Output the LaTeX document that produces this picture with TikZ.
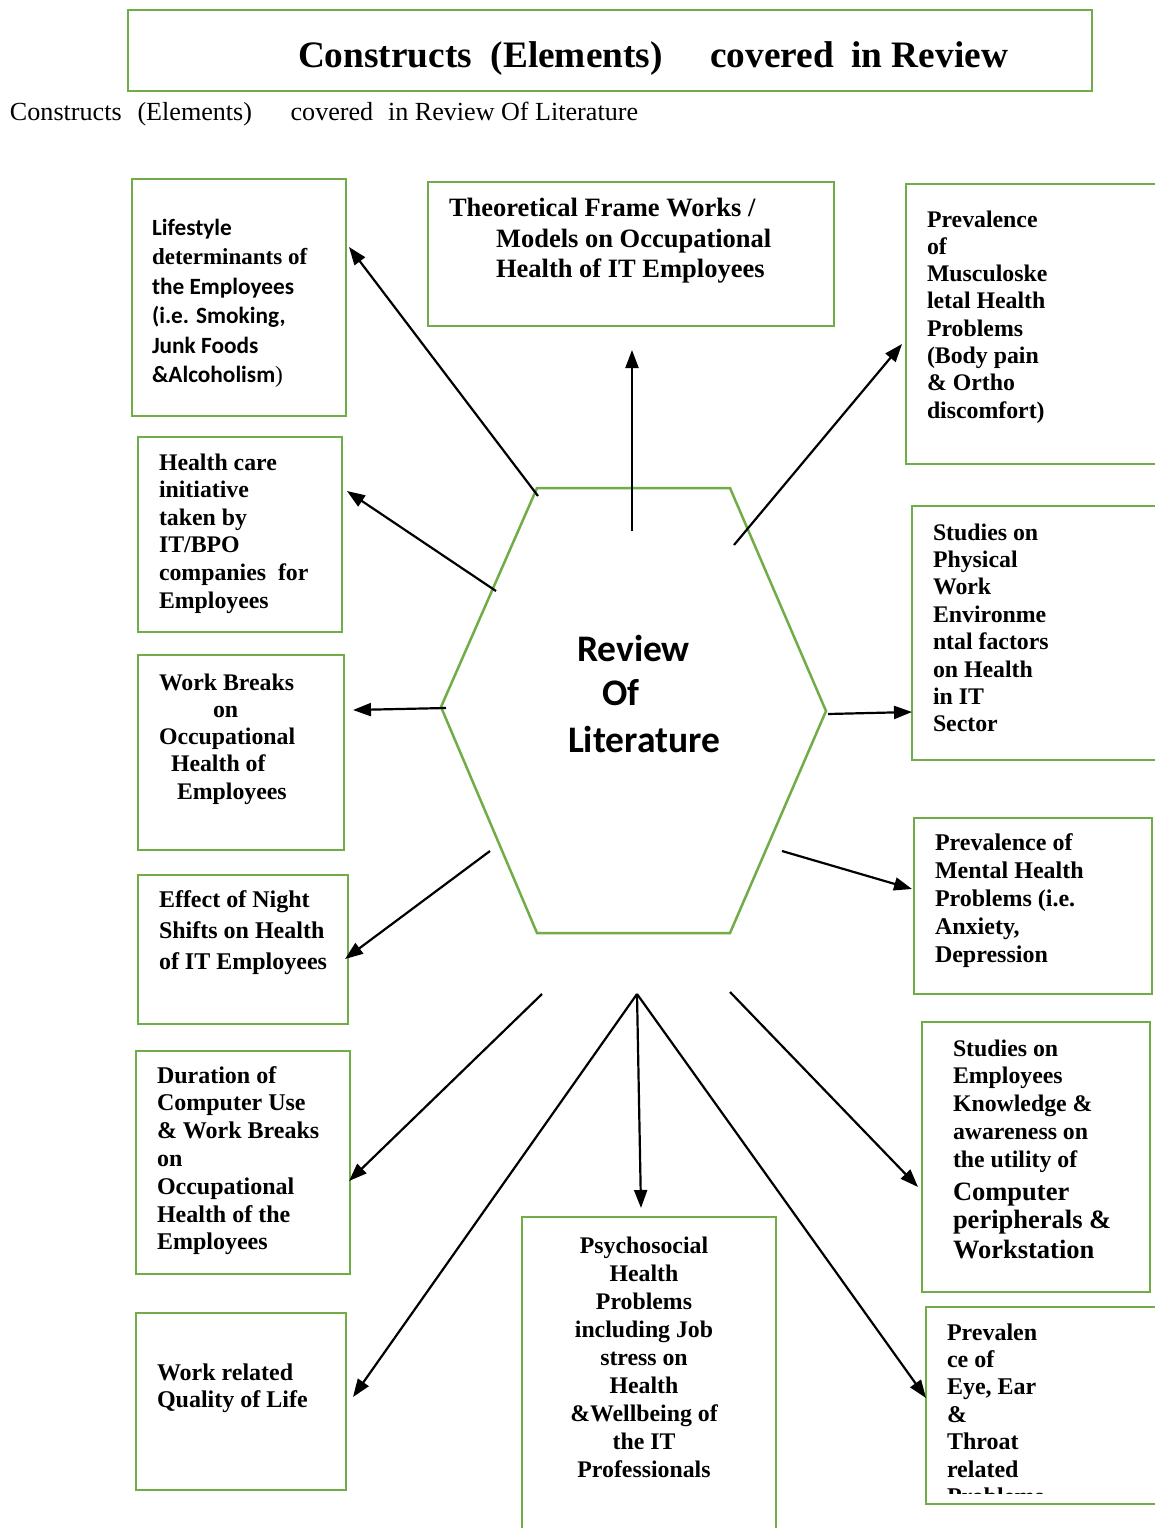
\documentclass[tikz,border=0pt]{standalone}
\usepackage{fontspec}
\setmainfont{Liberation Serif}
\newfontfamily\calfont{Carlito}
\newfontfamily\serfont{Liberation Serif}
\usetikzlibrary{arrows.meta}
\definecolor{boxgreen}{HTML}{70AD47}
\newcommand{\ltab}[1]{\begin{tabular}[t]{@{}l@{}}#1\end{tabular}}
\newcommand{\ctab}[1]{\begin{tabular}[t]{@{}c@{}}#1\end{tabular}}
\newcommand{\fs}[2]{\fontsize{#1}{#2}\selectfont}
\begin{document}
\begin{tikzpicture}[x=1pt,y=-1pt,
  bx/.style={draw=boxgreen, line width=2.5pt, anchor=north west, inner sep=0pt, outer sep=0pt},
  txt/.style={anchor=base west, inner sep=0pt, outer sep=0pt},
  arr/.style={line width=2.2pt, -{Triangle[length=18pt,width=13pt]}}]
\useasboundingbox[fill=white] (0,0) rectangle (1154,1528);

% boxes
\node[bx, minimum width=964pt, minimum height=81pt] (title) at (128,10) {};
\node[bx, minimum width=214pt, minimum height=237pt] (life) at (132,179) {};
\node[bx, minimum width=406pt, minimum height=144pt] (theory) at (428,182) {};
\node[bx, minimum width=270pt, minimum height=280pt] (musc) at (906,184) {};
\node[bx, minimum width=204pt, minimum height=195pt] (care) at (138,437) {};
\node[bx, minimum width=206pt, minimum height=195pt] (breaks) at (138,655) {};
\node[bx, minimum width=210pt, minimum height=149pt] (night) at (138,875) {};
\node[bx, minimum width=214pt, minimum height=223pt] (duration) at (136,1051) {};
\node[bx, minimum width=210pt, minimum height=177pt] (qol) at (136,1313) {};
\node[bx, minimum width=254pt, minimum height=340pt] (psycho) at (522,1217) {};
\node[bx, minimum width=270pt, minimum height=254pt] (phys) at (912,506) {};
\node[bx, minimum width=238pt, minimum height=176pt] (mental) at (914,818) {};
\node[bx, minimum width=228pt, minimum height=270pt] (know) at (922,1022) {};
\node[bx, minimum width=260pt, minimum height=197pt] (eye) at (926,1307) {};

% hexagon
\coordinate (h1) at (537,488);
\coordinate (h2) at (730,488);
\coordinate (h3) at (826,711);
\coordinate (h4) at (730,933);
\coordinate (h5) at (537,933);
\coordinate (h6) at (441,707);
\draw[boxgreen, line width=2.5pt, line join=miter] (h1) -- (h2) -- (h3) -- (h4) -- (h5) -- (h6) -- cycle;

% titles
\node[txt] (titletxt) at (298,68) {\resizebox{710pt}{!}{\fs{36}{40}\bfseries Constructs\hspace{18pt}(Elements)\hspace{46pt}covered\hspace{17pt}in Review}};
\node[txt] (subtxt) at (10,121) {\resizebox{628pt}{!}{\fs{23}{26}Constructs\hspace{14pt}(Elements)\hspace{34pt}covered\hspace{13pt}in Review Of Literature}};

% box texts
\node[txt] (lifetxt) at (152,235) {\calfont\bfseries\fs{23.3}{29.5}\ltab{Lifestyle\\ {\serfont\bfseries\fs{23}{29.5}determinants of}\\ the Employees\\ (i.e. Smoking,\\ Junk Foods\\ \&Alcoholism{\serfont\mdseries )}}};
\node[txt] (theorytxt) at (449,216.5) {\bfseries\fs{26.5}{30.7}\ltab{Theoretical Frame Works /\\ \hspace*{47pt}Models on Occupational\\ \hspace*{47pt}Health of IT Employees}};
\node[txt] (musctxt) at (927,227) {\bfseries\fs{23.8}{27.3}\ltab{Prevalence\\ of\\ Musculoske\\ letal Health\\ Problems\\ (Body pain\\ \& Ortho\\ discomfort)}};
\node[txt] (caretxt) at (159,470) {\bfseries\fs{23.8}{27.6}\ltab{Health care\\ initiative\\ taken by\\ IT/BPO\\ companies\ \ for\\ Employees}};
\node[txt] (breakstxt) at (159,690) {\bfseries\fs{23.8}{27.3}\ltab{Work Breaks\\ \hspace*{54pt}on\\ Occupational\\ \hspace*{12pt}Health of\\ \hspace*{18pt}Employees}};
\node[txt] (nighttxt) at (159,907) {\bfseries\fs{24}{31}\ltab{Effect of Night\\ Shifts on Health\\ of IT Employees}};
\node[txt] (durationtxt) at (157,1083) {\bfseries\fs{24}{27.8}\ltab{Duration of\\ Computer Use\\ \& Work Breaks\\ on\\ Occupational\\ Health of the\\ Employees}};
\node[txt] (qoltxt) at (157,1380) {\bfseries\fs{24}{27.5}\ltab{Work related\\ Quality of Life}};
\node[anchor=base, inner sep=0pt] (psychotxt) at (644,1253) {\bfseries\fs{23.8}{28.1}\ctab{Psychosocial\\ Health\\ Problems\\ including Job\\ stress on\\ Health\\ \&Wellbeing of\\ the IT\\ Professionals}};
\node[txt] (phystxt) at (933,540) {\bfseries\fs{23.8}{27.4}\ltab{Studies on\\ Physical\\ Work\\ Environme\\ ntal factors\\ on Health\\ in IT\\ Sector}};
\node[txt] (mentaltxt) at (935,850) {\bfseries\fs{24}{28}\ltab{Prevalence of\\ Mental Health\\ Problems (i.e.\\ Anxiety,\\ Depression}};
\node[txt] (knowtxt) at (953,1056) {\bfseries\fs{23.8}{27.8}\ltab{Studies on\\ Employees\\ Knowledge \&\\ awareness on\\ the utility of\\[5.2pt] {\fs{26.5}{29}Computer}\\[0.2pt] {\fs{26.5}{29}peripherals \&}\\[2.2pt] {\fs{26.5}{29}Workstation}}};
\begin{scope}
\clip (926,1307) rectangle (1154,1493);
\node[txt] (eyetxt) at (947,1340) {\bfseries\fs{24}{27.4}\ltab{Prevalen\\ ce of\\ Eye, Ear\\ \&\\ Throat\\ related\\ Problems}};
\end{scope}
\node[txt] (hex) at (568,661) {\calfont\bfseries\fs{37.5}{44}\ltab{\hspace*{9pt}Review\\ \hspace*{34pt}Of\\[3pt] Literature}};

% connector ends
\coordinate (s1) at (538,496);   \coordinate (t1) at (349,247);
\coordinate (s2) at (632,531);   \coordinate (t2) at (632,350);
\coordinate (s3) at (734,545);   \coordinate (t3) at (902,344);
\coordinate (s4) at (496,591);   \coordinate (t4) at (347,491);
\coordinate (s5) at (446,708);   \coordinate (t5) at (353,710);
\coordinate (s6) at (828,714);   \coordinate (t6) at (912,712);
\coordinate (s7) at (490,851);   \coordinate (t7) at (345,959);
\coordinate (s8) at (782,851);   \coordinate (t8) at (912,889);
\coordinate (s9) at (542,994);   \coordinate (t9) at (349,1181);
\coordinate (s10) at (637,994);  \coordinate (t10) at (353,1397);
\coordinate (t11) at (641,1208);
\coordinate (t12) at (926,1398);
\coordinate (s13) at (730,992);  \coordinate (t13) at (918,1187);

\draw[arr] (s1) -- (t1);
\draw[arr] (s2) -- (t2);
\draw[arr] (s3) -- (t3);
\draw[arr] (s4) -- (t4);
\draw[arr] (s5) -- (t5);
\draw[arr] (s6) -- (t6);
\draw[arr] (s7) -- (t7);
\draw[arr] (s8) -- (t8);
\draw[arr] (s9) -- (t9);
\draw[arr] (s10) -- (t10);
\draw[arr] (s10) -- (t11);
\draw[arr] (s10) -- (t12);
\draw[arr] (s13) -- (t13);
\end{tikzpicture}
\end{document}
